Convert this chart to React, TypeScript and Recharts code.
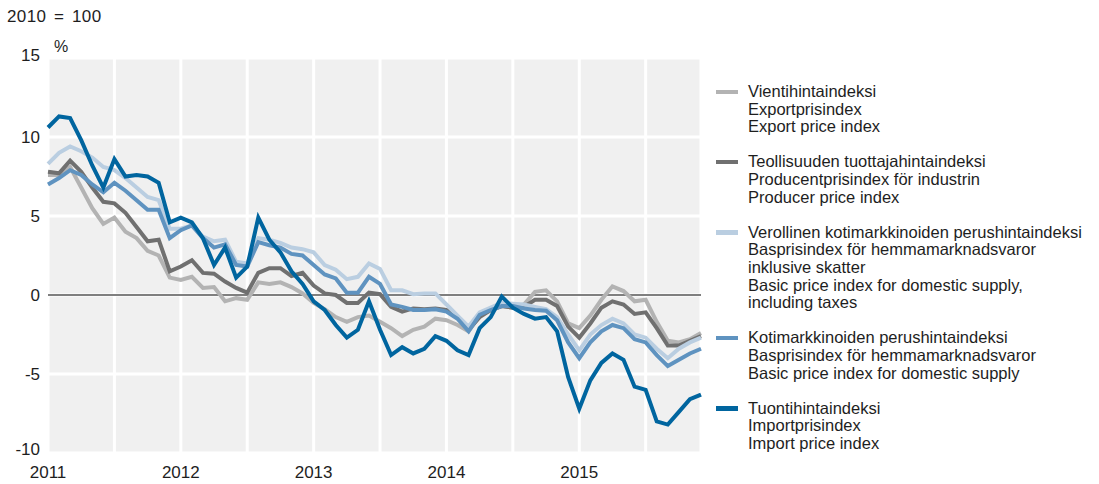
import React from 'react';
import { LineChart, Line, XAxis, YAxis, CartesianGrid, ReferenceLine, Legend } from 'recharts';

const yearLabels = ['2011', '2012', '2013', '2014', '2015'];
const monthsPerYear = 12;
const monthCount = 60;

const exportIdx = [7.6, 7.6, 8.1, 6.8, 5.5, 4.5, 4.9, 4.0, 3.6, 2.8, 2.5, 1.1, 0.95, 1.15, 0.45, 0.5, -0.4, -0.2, -0.3, 0.8, 0.7, 0.8, 0.5, 0.1, -0.5, -0.9, -1.4, -1.7, -1.4, -1.3, -1.7, -2.1, -2.6, -2.2, -2.0, -1.5, -1.6, -1.9, -2.3, -1.3, -0.95, -0.7, -0.8, -0.6, 0.2, 0.3, -0.4, -1.8, -2.1, -1.3, -0.3, 0.55, 0.25, -0.4, -0.3, -1.7, -2.9, -3.0, -2.8, -2.4];
const producerIdx = [7.8, 7.7, 8.5, 7.8, 6.8, 5.9, 5.8, 5.2, 4.3, 3.4, 3.5, 1.5, 1.8, 2.2, 1.4, 1.35, 0.85, 0.45, 0.15, 1.4, 1.7, 1.7, 1.2, 1.4, 0.6, 0.1, 0.0, -0.5, -0.5, 0.15, 0.05, -0.75, -1.05, -0.85, -0.9, -0.85, -0.95, -1.4, -2.2, -1.4, -0.95, -0.7, -0.8, -0.75, -0.3, -0.3, -0.7, -2.0, -2.7, -1.8, -0.8, -0.4, -0.6, -1.2, -1.1, -2.1, -3.2, -3.2, -2.9, -2.6];
const basicTaxIdx = [8.3, 9.0, 9.4, 9.1, 8.7, 8.1, 7.9, 7.4, 6.8, 6.2, 6.0, 4.2, 4.2, 4.4, 3.7, 3.4, 3.5, 2.1, 2.0, 3.6, 3.5, 3.3, 3.0, 2.9, 2.7, 1.9, 1.6, 1.0, 1.15, 2.0, 1.65, 0.3, 0.3, 0.05, 0.1, 0.1, -0.6, -1.3, -2.0, -1.1, -0.8, -0.5, -0.55, -0.6, -0.75, -0.9, -1.4, -2.5, -3.5, -2.5, -1.9, -1.5, -1.8, -2.5, -2.7, -3.4, -4.0, -3.4, -3.0, -2.7];
const basicIdx = [7.0, 7.4, 7.9, 7.6, 7.0, 6.5, 7.1, 6.6, 6.0, 5.4, 5.4, 3.6, 4.1, 4.4, 3.6, 3.0, 3.2, 1.9, 1.8, 3.35, 3.15, 3.0, 2.6, 2.5, 1.9, 1.3, 1.05, 0.15, 0.15, 1.15, 0.7, -0.6, -0.75, -0.95, -0.95, -0.9, -1.05, -1.5, -2.3, -1.25, -0.95, -0.7, -0.7, -0.85, -0.95, -1.0, -1.6, -3.0, -4.0, -3.0, -2.3, -1.9, -2.1, -2.8, -3.0, -3.8, -4.5, -4.1, -3.7, -3.4];
const importIdx = [10.6, 11.3, 11.2, 9.8, 8.2, 6.8, 8.6, 7.5, 7.6, 7.5, 7.1, 4.6, 4.9, 4.6, 3.6, 1.9, 3.0, 1.1, 1.8, 4.9, 3.5, 2.7, 1.5, 0.7, -0.4, -0.95, -1.9, -2.7, -2.2, -0.4, -2.2, -3.8, -3.3, -3.7, -3.4, -2.6, -2.9, -3.5, -3.8, -2.1, -1.4, -0.1, -0.8, -1.2, -1.5, -1.4, -2.3, -5.2, -7.2, -5.4, -4.3, -3.7, -4.1, -5.8, -6.0, -8.0, -8.2, -7.4, -6.6, -6.3];

const yTicks = [-10, -5, 0, 5, 10, 15];

const seriesDefs = [
  { key: 'export', values: exportIdx, color: '#b3b3b3', lines: ['Vientihintaindeksi', 'Exportprisindex', 'Export price index'] },
  { key: 'producer', values: producerIdx, color: '#707070', lines: ['Teollisuuden tuottajahintaindeksi', 'Producentprisindex för industrin', 'Producer price index'] },
  { key: 'basicTax', values: basicTaxIdx, color: '#bacee1', lines: ['Verollinen kotimarkkinoiden perushintaindeksi', 'Basprisindex för hemmamarknadsvaror', 'inklusive skatter', 'Basic price index for domestic supply,', 'including taxes'] },
  { key: 'basic', values: basicIdx, color: '#5f93c0', lines: ['Kotimarkkinoiden perushintaindeksi', 'Basprisindex för hemmamarknadsvaror', 'Basic price index for domestic supply'] },
  { key: 'import', values: importIdx, color: '#00659f', lines: ['Tuontihintaindeksi', 'Importprisindex', 'Import price index'] },
];

const data = Array.from({ length: monthCount }, (_, i) => {
  const row: Record<string, number> = { idx: i };
  seriesDefs.forEach((s) => { row[s.key] = s.values[i]; });
  return row;
});

const xGridTicks = Array.from({ length: monthCount / 6 }, (_, k) => k * 6);

const FONT = '"Liberation Sans", Arial, Helvetica, sans-serif';
const TEXT = '#1e1e1e';

const XTick = (props: any) => {
  const { x, y, payload } = props;
  const v = payload.value;
  if (v % monthsPerYear !== 0) return null;
  return (
    <text x={x} y={y + 25} textAnchor="middle" fill={TEXT} fontSize={17} fontFamily={FONT}>
      {yearLabels[v / monthsPerYear]}
    </text>
  );
};

const YTick = (props: any) => {
  const { x, y, payload } = props;
  const v = payload.value;
  const shift = v === -10 ? -4 : v === 15 ? -3 : 0;
  return (
    <text x={x} y={y + 6 + shift} textAnchor="end" fill={TEXT} fontSize={17} fontFamily={FONT}>
      {v}
    </text>
  );
};

const LegendContent = () => (
  <div style={{ fontFamily: FONT, fontSize: 16.5, lineHeight: '17.6px', color: TEXT }}>
    {seriesDefs.map((s) => (
      <div key={s.key} style={{ position: 'relative', paddingLeft: 32, marginBottom: 17.6, whiteSpace: 'nowrap' }}>
        <div style={{ position: 'absolute', left: 0, top: 6.5, width: 22, height: 4.5, background: s.color }} />
        {s.lines.map((l, j) => (
          <div key={j}>{l}</div>
        ))}
      </div>
    ))}
  </div>
);

export default function App() {
  return (
    <div style={{ position: 'absolute', left: 0, top: 0, width: 1099, height: 484, background: '#fff' }}>
      <div style={{ position: 'absolute', left: 7, top: 7, fontFamily: FONT, fontSize: 17, lineHeight: '20px', color: TEXT, wordSpacing: 2.5, letterSpacing: 0.4 }}>2010 = 100</div>
      <div style={{ position: 'absolute', left: 54, top: 37, fontFamily: FONT, fontSize: 16, lineHeight: '20px', color: TEXT }}>%</div>
      <LineChart width={1099} height={484} data={data} margin={{ top: 58, right: 398, bottom: 0, left: 0 }}>
        <CartesianGrid fill="#f0f0f0" stroke="#ffffff" strokeWidth={3} />
        <XAxis
          type="number"
          dataKey="idx"
          domain={[0, monthCount - 1]}
          ticks={xGridTicks}
          interval={0}
          axisLine={false}
          tickLine={false}
          tickSize={0}
          tickMargin={0}
          height={31}
          tick={<XTick />}
        />
        <YAxis
          type="number"
          domain={[-10, 15]}
          ticks={yTicks}
          interval={0}
          axisLine={false}
          tickLine={false}
          tickSize={0}
          tickMargin={8}
          width={48}
          tick={<YTick />}
        />
        <ReferenceLine y={0} stroke="#000" strokeWidth={1.2} />
        {seriesDefs.map((s) => (
          <Line
            key={s.key}
            type="linear"
            dataKey={s.key}
            stroke={s.color}
            strokeWidth={4}
            dot={false}
            activeDot={false}
            isAnimationActive={false}
          />
        ))}
        <Legend
          layout="vertical"
          align="center"
          verticalAlign="middle"
          content={<LegendContent />}
          wrapperStyle={{ left: 716, top: 83, width: 380, height: 400 }}
        />
      </LineChart>
    </div>
  );
}
